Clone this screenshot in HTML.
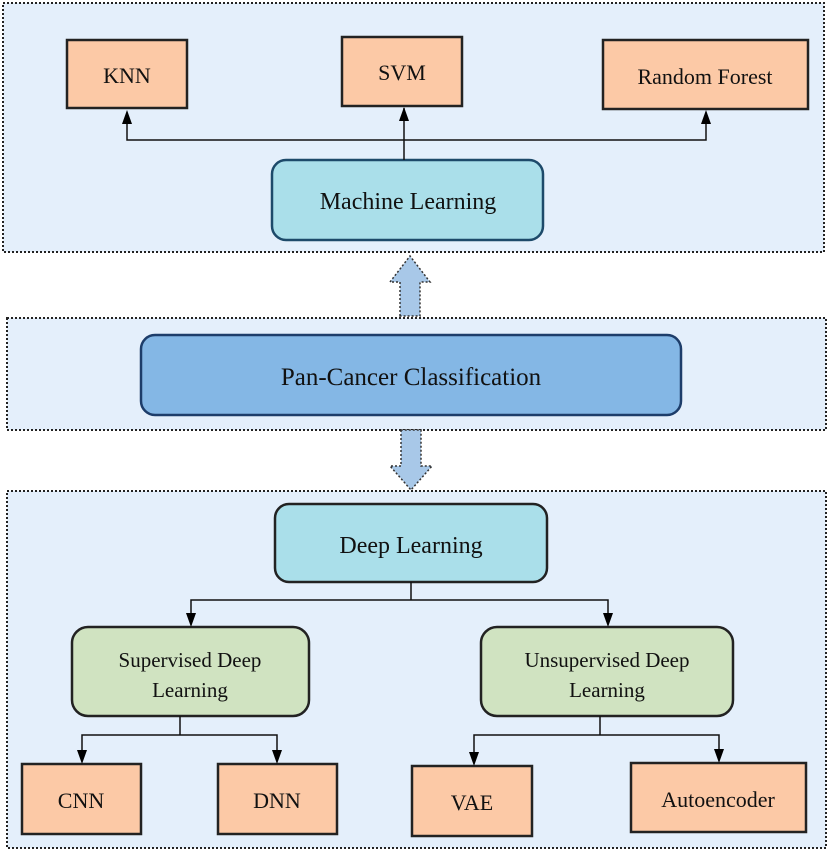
<!DOCTYPE html>
<html><head><style>
body{margin:0;background:#fff;}
svg text{font-family:"Liberation Serif",serif;fill:#111;}
</style></head><body>
<svg width="830" height="852" xmlns="http://www.w3.org/2000/svg">
<g stroke="#222" stroke-width="2" stroke-dasharray="2,2" fill="#e4effb">
<rect x="3" y="3" width="821" height="249"/>
<rect x="7" y="318" width="819" height="112"/>
<rect x="7" y="491" width="819" height="357"/>
</g>
<path d="M400,316 L400,282 L390,282 L410,256 L430,282 L420,282 L420,316Z" fill="#a8c8e8" stroke="#333" stroke-width="1.5" stroke-dasharray="2,2"/>
<path d="M401,430 L401,466 L390,466 L411,490 L432,466 L421,466 L421,430Z" fill="#a8c8e8" stroke="#333" stroke-width="1.5" stroke-dasharray="2,2"/>
<g stroke="#222" stroke-width="2.5" fill="#fcc9a6">
<rect x="67" y="40" width="120" height="68"/>
<rect x="342" y="37" width="120" height="69"/>
<rect x="603" y="40" width="205" height="69"/>
<rect x="22" y="764" width="119" height="70"/>
<rect x="218" y="764" width="119" height="70"/>
<rect x="412" y="766" width="120" height="70"/>
<rect x="631" y="763" width="175" height="69"/>
</g>
<rect x="272" y="160" width="271" height="80" rx="14" fill="#aadfea" stroke="#1d4a6a" stroke-width="2.5"/>
<rect x="141" y="335" width="540" height="80" rx="14" fill="#84b7e5" stroke="#1d3d6a" stroke-width="2.5"/>
<rect x="275" y="504" width="272" height="78" rx="14" fill="#aadfea" stroke="#222" stroke-width="2.5"/>
<rect x="72" y="627" width="237" height="89" rx="16" fill="#d0e3c1" stroke="#222" stroke-width="2.5"/>
<rect x="481" y="627" width="252" height="89" rx="16" fill="#d0e3c1" stroke="#222" stroke-width="2.5"/>
<g stroke="#111" stroke-width="1.5" fill="none">
<path d="M404,160 L404,108"/>
<path d="M127,124 L127,140 L706,140 L706,124"/>
<path d="M411,582 L411,600 L191,600 L191,613 M411,600 L608,600 L608,613"/>
<path d="M180,716 L180,735 L82,735 L82,750 M180,735 L277,735 L277,750"/>
<path d="M600,716 L600,735 L474,735 L474,752 M600,735 L719,735 L719,749"/>
</g>
<g fill="#000">
<path d="M122,124 L132,124 L127,110Z"/><path d="M399,121 L409,121 L404,107Z"/><path d="M701,124 L711,124 L706,110Z"/>
<path d="M186,613 L196,613 L191,627Z"/><path d="M603,613 L613,613 L608,627Z"/>
<path d="M77,750 L87,750 L82,764Z"/><path d="M272,750 L282,750 L277,764Z"/>
<path d="M469,752 L479,752 L474,766Z"/><path d="M714,749 L724,749 L719,763Z"/>
</g>
<g font-size="22" text-anchor="middle">
<text x="127" y="83">KNN</text>
<text x="402" y="80">SVM</text>
<text x="705" y="84">Random Forest</text>
<text x="408" y="209" font-size="24">Machine Learning</text>
<text x="411" y="385" font-size="25">Pan-Cancer Classification</text>
<text x="411" y="553" font-size="24">Deep Learning</text>
<text x="190" y="667" font-size="21">Supervised Deep</text>
<text x="190" y="697" font-size="21">Learning</text>
<text x="607" y="667" font-size="21">Unsupervised Deep</text>
<text x="607" y="697" font-size="21">Learning</text>
<text x="81" y="808">CNN</text>
<text x="277" y="808">DNN</text>
<text x="472" y="810">VAE</text>
<text x="718" y="807">Autoencoder</text>
</g>
</svg>
</body></html>
